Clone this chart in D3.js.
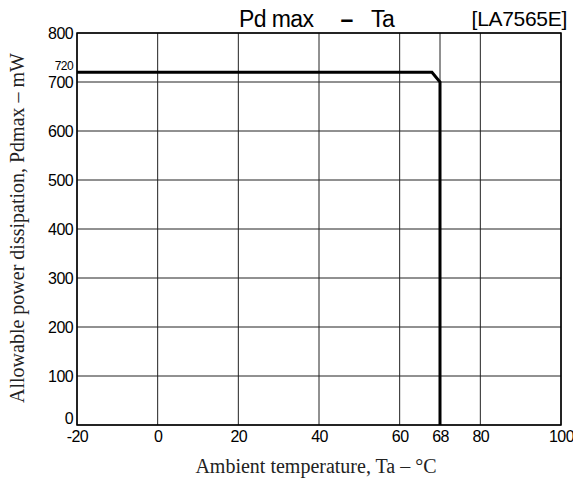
<!DOCTYPE html>
<html>
<head>
<meta charset="utf-8">
<script src="https://cdn.jsdelivr.net/npm/d3@7"></script>
<style>
  body { margin: 0; background: #fff; }
  .tick-label { font-family: "Liberation Sans", Arial, sans-serif; font-size: 16px; letter-spacing: -0.6px; fill: #000; }
  .axis-title { font-family: "Liberation Serif", "Times New Roman", serif; font-size: 20px; fill: #222; }
</style>
</head>
<body>
<script>
// Pd max - Ta derating curve

// Data
let curveTa = [-20, 68, 70, 70];
let curvePd = [720, 720, 700, 0];

let xTickValues = [-20, 0, 20, 40, 60, 70, 80, 100];
let xTickLabels = ["-20", "0", "20", "40", "60", "68", "80", "100"];
let yTickValues = [0, 100, 200, 300, 400, 500, 600, 700, 800];
let yTickLabels = ["0", "100", "200", "300", "400", "500", "600", "700", "800"];

// Set up the svg
let svgWidth = 573;
let svgHeight = 483;

let margin = { top: 33, right: 12, bottom: 58, left: 77 };
let width = svgWidth - margin.left - margin.right;
let height = svgHeight - margin.top - margin.bottom;

let svg = d3.select("body")
            .append("svg")
            .attr("width", svgWidth)
            .attr("height", svgHeight);

let chartGroup = svg.append("g")
                    .attr("transform", `translate(${margin.left}, ${margin.top})`);

// Scales
let xScale = d3.scaleLinear().domain([-20, 100]).range([0, width]);
let yScale = d3.scaleLinear().domain([0, 800]).range([height, 0]);

// Grid lines
chartGroup.selectAll(".vgrid")
          .data(xTickValues)
          .enter()
          .append("line")
          .attr("x1", d => xScale(d))
          .attr("x2", d => xScale(d))
          .attr("y1", 0)
          .attr("y2", height)
          .attr("stroke", "#222")
          .attr("stroke-width", 1);

chartGroup.selectAll(".hgrid")
          .data(yTickValues)
          .enter()
          .append("line")
          .attr("x1", 0)
          .attr("x2", width)
          .attr("y1", d => yScale(d))
          .attr("y2", d => yScale(d))
          .attr("stroke", "#222")
          .attr("stroke-width", 1);

// Frame
chartGroup.append("rect")
          .attr("x", 0)
          .attr("y", 0)
          .attr("width", width)
          .attr("height", height)
          .attr("fill", "none")
          .attr("stroke", "#000")
          .attr("stroke-width", 1.5);

// Axes (labels only)
let bottomAxis = d3.axisBottom(xScale)
                   .tickValues(xTickValues)
                   .tickFormat((d, i) => xTickLabels[i])
                   .tickSize(0)
                   .tickPadding(6);
let leftAxis = d3.axisLeft(yScale)
                 .tickValues(yTickValues)
                 .tickFormat((d, i) => yTickLabels[i])
                 .tickSize(0)
                 .tickPadding(4);

let xAxisG = chartGroup.append("g")
                       .attr("transform", `translate(0, ${height})`)
                       .call(bottomAxis);
let yAxisG = chartGroup.append("g").call(leftAxis);

[xAxisG, yAxisG].forEach(g => {
    g.select(".domain").remove();
    g.selectAll("text").attr("class", "tick-label").attr("font-size", null).attr("font-family", null);
});
xAxisG.selectAll("text").attr("y", 6).attr("dy", "0.71em");
yAxisG.selectAll(".tick").filter(d => d === 0).select("text").attr("dy", "-0.1em");

// 720 marker label
chartGroup.append("text")
          .attr("class", "tick-label")
          .attr("x", -4)
          .attr("y", yScale(720))
          .attr("dy", "-0.15em")
          .attr("text-anchor", "end")
          .style("font-size", "12px")
          .text("720");

// Curve
let line = d3.line()
             .x(d => xScale(d[0]))
             .y(d => yScale(d[1]));

chartGroup.append("path")
          .datum(curveTa.map((t, i) => [t, curvePd[i]]))
          .attr("d", line)
          .attr("fill", "none")
          .attr("stroke", "#000")
          .attr("stroke-width", 3);

// Titles
let titleFont = "Liberation Sans, Arial, sans-serif";
svg.append("text")
   .attr("x", 239)
   .attr("y", 27)
   .attr("font-family", titleFont)
   .attr("font-size", 23)
   .attr("letter-spacing", "-0.6px")
   .text("Pd max");
svg.append("text")
   .attr("x", 347)
   .attr("y", 27)
   .attr("text-anchor", "middle")
   .attr("font-family", titleFont)
   .attr("font-size", 23)
   .attr("font-weight", "bold")
   .text("\u2013");
svg.append("text")
   .attr("x", 371)
   .attr("y", 27)
   .attr("font-family", titleFont)
   .attr("font-size", 23)
   .attr("letter-spacing", "-0.6px")
   .text("Ta");

svg.append("text")
   .attr("x", 567)
   .attr("y", 26)
   .attr("text-anchor", "end")
   .attr("font-family", titleFont)
   .attr("font-size", 21)
   .attr("letter-spacing", "-0.3px")
   .text("[LA7565E]");

svg.append("text")
   .attr("class", "axis-title")
   .attr("x", 316)
   .attr("y", 473)
   .attr("text-anchor", "middle")
   .text("Ambient temperature, Ta \u2013 \u00B0C");

svg.append("text")
   .attr("class", "axis-title")
   .attr("transform", "rotate(-90)")
   .attr("x", -228)
   .attr("y", 24)
   .attr("text-anchor", "middle")
   .text("Allowable power dissipation, Pdmax \u2013 mW");
</script>
</body>
</html>
